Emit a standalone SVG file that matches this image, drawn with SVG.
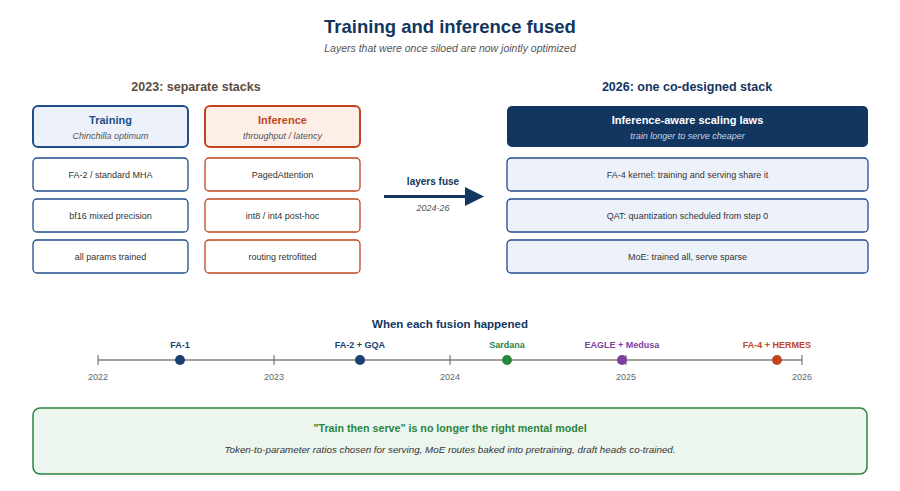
<svg xmlns="http://www.w3.org/2000/svg" width="900" height="491" viewBox="0 0 900 491">
<defs>
<style>
text{font-family:"Liberation Sans",Arial,sans-serif;text-anchor:middle}
.title{font-size:18.5px;font-weight:bold;fill:#12365f}
.sub{font-size:10.5px;font-style:italic;fill:#555}
.sec{font-size:12.5px;font-weight:bold}
.hdr{font-size:11px;font-weight:bold}
.hsub{font-size:9px;font-style:italic;fill:#555}
.row{font-size:9px;fill:#333}
.tr{fill:#edf2fa;stroke:#1f4e8c;stroke-width:1.3}
.trh{fill:#edf2fa;stroke:#1f4e8c;stroke-width:2}
.inf{fill:#fff;stroke:#c0461e;stroke-width:1.3}
.infh{fill:#fdeee8;stroke:#c0461e;stroke-width:2}
.trw{fill:#fff;stroke:#1f4e8c;stroke-width:1.3}
.lbl{font-size:9px;font-weight:bold}
.yr{font-size:9px;fill:#666}
</style>
</defs>
<rect width="900" height="491" fill="#fff"/>
<text class="title" x="450" y="33">Training and inference fused</text>
<text class="sub" x="450" y="52">Layers that were once siloed are now jointly optimized</text>

<text class="sec" x="196" y="91" fill="#5d4c3f">2023: separate stacks</text>
<text class="sec" x="687" y="91" fill="#12365f">2026: one co-designed stack</text>

<g id="training">
<rect class="trh" x="33" y="106" width="155" height="41" rx="5"/>
<text class="hdr" x="110.5" y="124" fill="#1f4e8c">Training</text>
<text class="hsub" x="110.5" y="139">Chinchilla optimum</text>
</g>
<g id="inference">
<rect class="infh" x="205" y="106" width="155" height="41" rx="5"/>
<text class="hdr" x="282.5" y="124" fill="#c0461e">Inference</text>
<text class="hsub" x="282.5" y="139">throughput / latency</text>
</g>
<g id="t1"><rect class="trw" x="33" y="158" width="155" height="33" rx="4"/><text class="row" x="110.5" y="178">FA-2 / standard MHA</text></g>
<g id="t2"><rect class="trw" x="33" y="199" width="155" height="33" rx="4"/><text class="row" x="110.5" y="219">bf16 mixed precision</text></g>
<g id="t3"><rect class="trw" x="33" y="240" width="155" height="33" rx="4"/><text class="row" x="110.5" y="260">all params trained</text></g>
<g id="i1"><rect class="inf" x="205" y="158" width="155" height="33" rx="4"/><text class="row" x="282.5" y="178">PagedAttention</text></g>
<g id="i2"><rect class="inf" x="205" y="199" width="155" height="33" rx="4"/><text class="row" x="282.5" y="219">int8 / int4 post-hoc</text></g>
<g id="i3"><rect class="inf" x="205" y="240" width="155" height="33" rx="4"/><text class="row" x="282.5" y="260">routing retrofitted</text></g>

<g id="codesign">
<rect x="507" y="106" width="361" height="41" rx="5" fill="#12365f"/>
<text class="hdr" x="687.5" y="124" fill="#fff">Inference-aware scaling laws</text>
<text class="hsub" x="687.5" y="139" style="fill:#c8d4e6">train longer to serve cheaper</text>
</g>
<g id="c1"><rect class="tr" x="507" y="158" width="361" height="33" rx="4"/><text class="row" x="687.5" y="178">FA-4 kernel: training and serving share it</text></g>
<g id="c2"><rect class="tr" x="507" y="199" width="361" height="33" rx="4"/><text class="row" x="687.5" y="219">QAT: quantization scheduled from step 0</text></g>
<g id="c3"><rect class="tr" x="507" y="240" width="361" height="33" rx="4"/><text class="row" x="687.5" y="260">MoE: trained all, serve sparse</text></g>

<g id="connectors">
<line x1="384" y1="196.5" x2="467" y2="196.5" stroke="#12365f" stroke-width="3"/>
<polygon points="465,187 484,196.5 465,206" fill="#12365f"/>
</g>
<text class="hdr" x="433" y="185" fill="#12365f" style="font-size:10px">layers fuse</text>
<text class="hsub" x="433" y="211">2024-26</text>

<g id="timeline">
<text class="hdr" x="450" y="328" fill="#12365f" style="font-size:11.5px">When each fusion happened</text>
<line x1="98" y1="360" x2="802" y2="360" stroke="#8a7f74" stroke-width="1.5"/>
<g stroke="#8a7f74" stroke-width="1.3">
<line x1="98" y1="355" x2="98" y2="365"/>
<line x1="274" y1="355" x2="274" y2="365"/>
<line x1="450" y1="355" x2="450" y2="365"/>
<line x1="626" y1="355" x2="626" y2="365"/>
<line x1="802" y1="355" x2="802" y2="365"/>
</g>
<text class="yr" x="98" y="380">2022</text>
<text class="yr" x="274" y="380">2023</text>
<text class="yr" x="450" y="380">2024</text>
<text class="yr" x="626" y="380">2025</text>
<text class="yr" x="802" y="380">2026</text>
<g id="e1"><circle cx="180" cy="360" r="5" fill="#1a3f73"/><text class="lbl" x="180" y="348" fill="#1a3f73">FA-1</text></g>
<g id="e2"><circle cx="360" cy="360" r="5" fill="#1a3f73"/><text class="lbl" x="360" y="348" fill="#1a3f73">FA-2 + GQA</text></g>
<g id="e3"><circle cx="507" cy="360" r="5" fill="#2a8540"/><text class="lbl" x="507" y="348" fill="#2a8540">Sardana</text></g>
<g id="e4"><circle cx="622" cy="360" r="5" fill="#7b3fa0"/><text class="lbl" x="622" y="348" fill="#7b3fa0">EAGLE + Medusa</text></g>
<g id="e5"><circle cx="777" cy="360" r="5" fill="#c0461e"/><text class="lbl" x="777" y="348" fill="#c0461e">FA-4 + HERMES</text></g>
</g>

<g id="takeaway">
<rect x="33" y="408" width="834" height="66" rx="7" fill="#ecf5ee" stroke="#2a8540" stroke-width="1.5"/>
<text class="hdr" x="450" y="432" fill="#2a8540" style="font-size:10.7px">"Train then serve" is no longer the right mental model</text>
<text class="hsub" x="450" y="453" style="fill:#333;font-size:9.8px">Token-to-parameter ratios chosen for serving, MoE routes baked into pretraining, draft heads co-trained.</text>
</g>
</svg>
